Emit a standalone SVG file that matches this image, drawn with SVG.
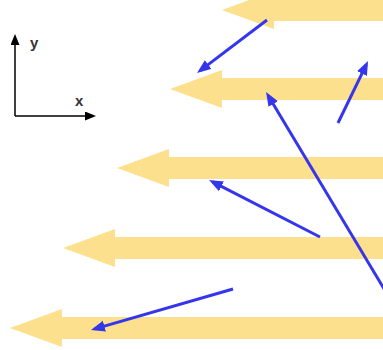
<svg xmlns="http://www.w3.org/2000/svg" xmlns:xlink="http://www.w3.org/1999/xlink" width="383" height="350" viewBox="0 0 383 350">
<style>
.band{fill:#FCE08E}
.vec{stroke:#3535EC;stroke-width:3;fill:none;marker-end:url(#bh)}
.axis{stroke:#000;stroke-width:1.5;fill:none;marker-end:url(#ah)}
.lbl{font-family:"Liberation Sans",Arial,sans-serif;font-size:15px;font-weight:bold;fill:#333}
</style>
<defs>
<path id="band" class="band" d="M0,0 L52,-19 L52,-11 L420,-11 L420,11 L52,11 L52,19 Z"/>
<marker id="bh" markerUnits="userSpaceOnUse" markerWidth="16" markerHeight="12" refX="10" refY="5.5" orient="auto"><path d="M0,0 L14,5.5 L0,11 Z" fill="#3535EC"/></marker>
<marker id="ah" markerUnits="userSpaceOnUse" markerWidth="12" markerHeight="10" refX="6" refY="4.5" orient="auto"><path d="M0,0 L11,4.5 L0,9 Z" fill="#000"/></marker>
</defs>
<g id="bands">
<use xlink:href="#band" x="222" y="10"/>
<use xlink:href="#band" x="170" y="89"/>
<use xlink:href="#band" x="117" y="168"/>
<use xlink:href="#band" x="63" y="248"/>
<use xlink:href="#band" x="10" y="328"/>
</g>
<g id="axes">
<line class="axis" x1="15" y1="116" x2="15" y2="39"/>
<line class="axis" x1="15" y1="116" x2="91" y2="116"/>
<text class="lbl" x="30" y="48">y</text>
<text class="lbl" x="75" y="106">x</text>
</g>
<g id="connectors">
<line class="vec" x1="267" y1="20" x2="200.2" y2="70.6"/>
<line class="vec" x1="338" y1="123" x2="366.3" y2="64.6"/>
<line class="vec" x1="320" y1="237" x2="212.6" y2="181.8"/>
<line class="vec" x1="385" y1="290.4" x2="268.1" y2="95.4"/>
<line class="vec" x1="233" y1="289" x2="94.8" y2="328.9"/>
</g>
</svg>
